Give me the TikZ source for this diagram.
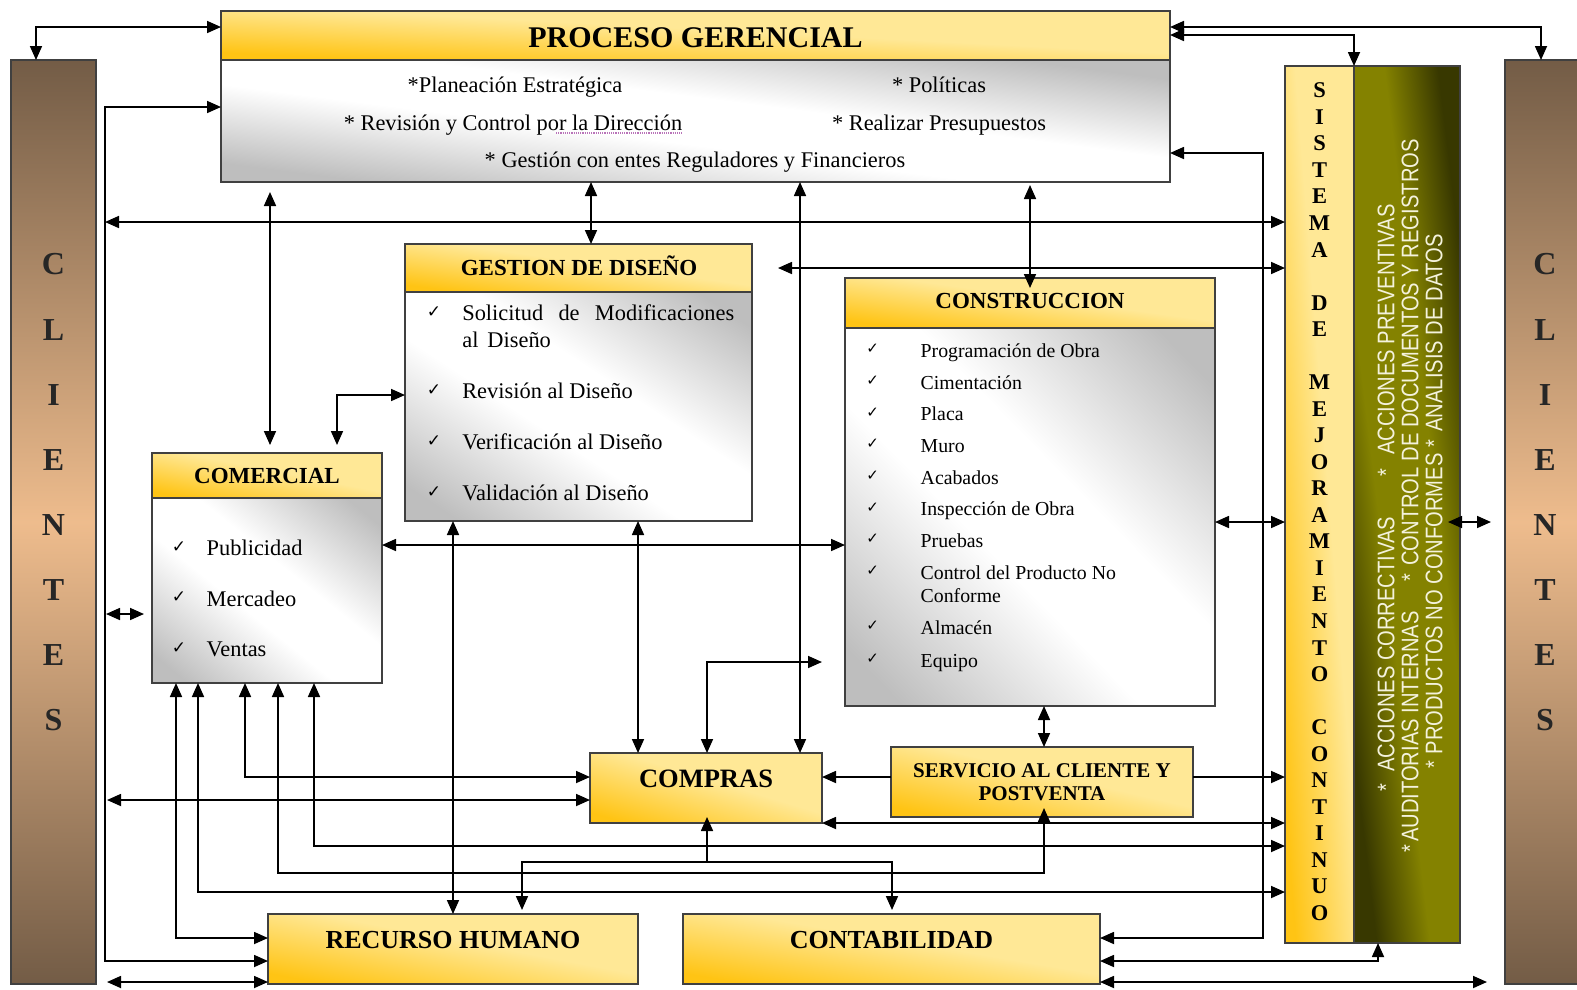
\documentclass[tikz,border=0pt]{standalone}
\usepackage{fontspec}
\setmainfont{Liberation Serif}
\newfontfamily\narrowsans[FakeStretch=0.84]{Liberation Sans}
\newfontfamily\symfont{DejaVu Sans}
\usetikzlibrary{arrows.meta}
\definecolor{goldD}{HTML}{FFC414}
\definecolor{goldL}{HTML}{FFE896}
\definecolor{bgrey}{HTML}{BEBEBE}
\definecolor{brD}{HTML}{735C46}
\definecolor{brL}{HTML}{EEBC8D}
\definecolor{olv}{HTML}{848200}
\definecolor{olvD}{HTML}{383800}
\definecolor{bord}{HTML}{404040}
\definecolor{cream}{HTML}{F4F2DC}
\pgfdeclarehorizontalshading{goldsh}{100bp}{color(0bp)=(goldD); color(20bp)=(goldD); color(55bp)=(goldL); color(100bp)=(goldL)}
\pgfdeclarehorizontalshading{greysh}{100bp}{color(0bp)=(bgrey); color(20bp)=(bgrey); color(43bp)=(white); color(57bp)=(white); color(80bp)=(bgrey); color(100bp)=(bgrey)}
\pgfdeclarehorizontalshading{greensh}{100bp}{color(0bp)=(olvD); color(22bp)=(olvD); color(40bp)=(olv); color(60bp)=(olv); color(78bp)=(olvD); color(100bp)=(olvD)}
\newcommand{\nshade}[5]{%
  \begin{scope}[transform canvas={shift={(#1,#2)}, xscale=#3/100, yscale=#4/100}]
    \shade[shading=#5, shading angle=45] (0,0) rectangle (100,100);
  \end{scope}}
\newcommand{\shbox}[6]{%
  \nshade{#2}{#3}{#4}{#5}{#6}%
  \node[box, minimum width=#4pt, minimum height=#5pt] (#1) at (#2,#3) {};}
\tikzset{
  every node/.style={inner sep=0pt, outer sep=0pt},
  box/.style={draw=bord, line width=1.2pt, anchor=north west},
  cbar/.style={draw=bord, line width=1.2pt, top color=brD, bottom color=brD, middle color=brL, anchor=north west},
  conn/.style={line width=1.7pt},
  hdtxt/.style={anchor=base, font=\fontsize{23}{27}\selectfont\bfseries},
  bigtxt/.style={anchor=base, font=\fontsize{26.5}{30}\selectfont\bfseries},
  itm/.style={anchor=base west, font=\fontsize{22.4}{27}\selectfont},
  pitm/.style={anchor=base, font=\fontsize{22.4}{27}\selectfont},
  citm/.style={anchor=base west, font=\fontsize{19.8}{24}\selectfont},
  chk/.style={anchor=center, font=\symfont\fontsize{17}{20}\selectfont},
  clet/.style={anchor=center, font=\fontsize{32}{36}\selectfont\bfseries, text=black!85},
  slet/.style={anchor=center, font=\fontsize{22.5}{26}\selectfont\bfseries},
  gtxt/.style={anchor=center, rotate=90, text=cream, font=\narrowsans\fontsize{24}{28}\selectfont}
}
\begin{document}
\begin{tikzpicture}[x=1pt, y=-1pt, >={Triangle[length=14pt,width=12pt]}]
\useasboundingbox (0,0) rectangle (1577,989);
\fill[white] (0,0) rectangle (1577,989);

% ---------- boxes ----------
\node[cbar, minimum width=85pt, minimum height=924pt] (cliL) at (11,60) {};
\node[cbar, minimum width=85pt, minimum height=924pt] (cliR) at (1505,60) {};
\shbox{proch}{221}{11}{949}{49}{goldsh}
\shbox{procb}{221}{60}{949}{122}{greysh}
\shbox{dish}{405}{244}{347}{48}{goldsh}
\shbox{disb}{405}{292}{347}{229}{greysh}
\shbox{conh}{845}{278}{370}{50}{goldsh}
\shbox{conb}{845}{328}{370}{378}{greysh}
\shbox{comh}{152}{453}{230}{45}{goldsh}
\shbox{comb}{152}{498}{230}{185}{greysh}
\shbox{compras}{590}{753}{232}{70}{goldsh}
\shbox{serv}{891}{747}{302}{70}{goldsh}
\shbox{rh}{268}{914}{370}{70}{goldsh}
\shbox{cont}{683}{914}{417}{70}{goldsh}
\shbox{sis}{1285}{66}{69}{877}{goldsh}
\shbox{grn}{1354}{66}{106}{877}{greensh}

% ---------- texts ----------
\foreach \l [count=\i from 0] in {C,L,I,E,N,T,E,S} {
  \node[clet] (cl\i) at (53.5,{264.5+65.1*\i}) {\l};
  \node[clet] (cr\i) at (1545,{264.5+65.1*\i}) {\l};
}
\foreach \l [count=\i from 0] in {S,I,S,T,E,M,A,,D,E,,M,E,J,O,R,A,M,I,E,N,T,O,,C,O,N,T,I,N,U,O} {
  \node[slet] (sl\i) at (1319.5,{90.5+26.53*\i}) {\l};
}
\node[gtxt] (g1) at (1386,498) {*\hspace{12pt}ACCIONES CORRECTIVAS\hspace{40pt}*\hspace{14pt}ACCIONES PREVENTIVAS};
\node[gtxt] (g2) at (1410,496) {*\hspace{3pt}AUDITORIAS INTERNAS\hspace{30pt}*\hspace{8pt}CONTROL DE DOCUMENTOS Y REGISTROS};
\node[gtxt] (g3) at (1434,501) {*\hspace{6pt}PRODUCTOS NO CONFORMES\hspace{6pt}*\hspace{8pt}ANALISIS DE DATOS};

\node[anchor=base, font=\fontsize{30}{36}\selectfont\bfseries] (procT) at (695.5,47) {PROCESO GERENCIAL};
\node[pitm] (p1) at (515,92) {*Planeación Estratégica};
\node[pitm] (p2) at (939,92) {* Políticas};
\node[pitm] (p3) at (513,130.5) {* Revisión y Control por la Dirección};
\node[pitm] (p4) at (939,130.5) {* Realizar Presupuestos};
\node[pitm] (p5) at (695,167.5) {* Gestión con entes Reguladores y Financieros};
\draw[violet!55, densely dotted, line width=1.2pt] (556,133) -- (682,133);

\node[hdtxt] (disT) at (579,275.1) {GESTION DE DISEÑO};
\node[chk] (dc1) at (434,312.3) {✓};
\node[chk] (dc2) at (434,390) {✓};
\node[chk] (dc3) at (434,441) {✓};
\node[chk] (dc4) at (434,492) {✓};
\node[itm] (d1) at (462.3,320.7) {\hbox to 272pt{Solicitud\hfill de\hfill Modificaciones}};
\node[itm] (d1b) at (462.3,347) {al\hspace{9pt}Diseño};
\node[itm] (d2) at (462.3,398.3) {Revisión al Diseño};
\node[itm] (d3) at (462.3,449.3) {Verificación al Diseño};
\node[itm] (d4) at (462.3,500.7) {Validación al Diseño};

\node[hdtxt] (conT) at (1030,308.6) {CONSTRUCCION};
\foreach \t/\b [count=\i] in {Programación de Obra/357, Cimentación/389, Placa/420.7, Muro/452, Acabados/484, Inspección de Obra/515.7, Pruebas/547, Control del Producto No/579, Almacén/634, Equipo/667} {
  \node[chk, font=\symfont\fontsize{15}{18}\selectfont] (cc\i) at (872.7,{\b-8}) {✓};
  \node[citm] (ct\i) at (920.7,\b) {\t};
}
\node[citm] (ct8b) at (920.7,602.7) {Conforme};

\node[hdtxt] (comT) at (267,483.6) {COMERCIAL};
\node[chk] (mc1) at (179,546.7) {✓};
\node[chk] (mc2) at (179,597) {✓};
\node[chk] (mc3) at (179,648) {✓};
\node[itm] (m1) at (206.7,555) {Publicidad};
\node[itm] (m2) at (206.7,606) {Mercadeo};
\node[itm] (m3) at (206.7,656.7) {Ventas};

\node[bigtxt] (compT) at (706,787.8) {COMPRAS};
\node[anchor=base, font=\fontsize{21}{24}\selectfont\bfseries] (servT1) at (1042,777) {SERVICIO AL CLIENTE Y};
\node[anchor=base, font=\fontsize{21}{24}\selectfont\bfseries] (servT2) at (1042,800.5) {POSTVENTA};
\node[bigtxt, font=\fontsize{26}{30}\selectfont\bfseries] (rhT) at (453,948.6) {RECURSO HUMANO};
\node[bigtxt, font=\fontsize{26}{30}\selectfont\bfseries] (contT) at (891.5,948.6) {CONTABILIDAD};

% ---------- connectors ----------
\coordinate (vl) at (105,0);
\coordinate (svturn) at (1044,873);
\coordinate (tree) at (707,862);
\begin{scope}[conn]
\draw[<->] (cliL.north -| 36,0) |- (proch.west |- 0,27);
\draw[<->] (cliR.north -| 1541,0) |- (proch.east |- 0,27);
\draw[<->] (sis.north east) |- (proch.east |- 0,35);
\draw[<->] (procb.west |- 0,107) -| (vl |- 0,961) -- (rh.west |- 0,961);
\draw[<->] (vl |- 0,222) -- (sis.west |- 0,222);
\draw[<->, shorten <=2pt] (vl |- 0,800) -- (compras.west |- 0,800);
\draw[<->, shorten <=2pt] (vl |- 0,982) -- (rh.west |- 0,982);
\draw[<->, shorten <=1pt, shorten >=8pt] (vl |- 0,614) -- (comb.west |- 0,614);
\draw[<->, shorten <=10pt, shorten >=8pt] (procb.south -| 270,0) -- (comh.north -| 270,0);
\draw[<->, shorten <=8pt] (comh.north -| 337,0) |- (disb.west |- 0,395);
\draw[<->] (procb.south -| 591,0) -- (dish.north -| 591,0);
\draw[<->, shorten <=26pt] (dish.east |- 0,268) -- (sis.west |- 0,268);
\draw[<->, shorten <=3pt, shorten >=-10pt] (procb.south -| 1030,0) -- (conh.north -| 1030,0);
\draw[<->] (procb.south -| 800,0) -- (compras.north -| 800,0);
\draw[<->] (disb.south -| 638,0) -- (compras.north -| 638,0);
\draw[<->] (disb.south -| 453,0) -- (rh.north -| 453,0);
\draw[<->] (comb.east |- 0,545) -- (conb.west |- 0,545);
\draw[<->, shorten >=23pt] (compras.north -| 707,0) |- (conb.west |- 0,662);
\draw[<->] (conb.south -| 1044,0) -- (serv.north -| 1044,0);
\draw[->] (serv.west |- 0,777) -- (compras.east |- 0,777);
\draw[->] (serv.east |- 0,777) -- (sis.west |- 0,777);
\draw[<->] (compras.east |- 0,823) -- (sis.west |- 0,823);
\draw[<->, shorten >=-9pt] (comb.south -| 278,0) |- (svturn) -- (serv.south -| svturn);
\draw[<->, shorten <=4pt, shorten >=4pt] (rh.north -| 522,0) -- (tree -| 522,0) -- (tree -| 892,0) -- (cont.north -| 892,0);
\draw[->, shorten >=-6pt] (tree) -- (compras.south -| tree);
\draw[<->] (comb.south -| 314,0) |- (sis.west |- 0,846);
\draw[<->] (comb.south -| 198,0) |- (sis.west |- 0,892);
\draw[<->] (comb.south -| 245,0) |- (compras.west |- 0,777);
\draw[<->] (comb.south -| 176,0) |- (rh.west |- 0,938);
\draw[<->] (procb.east |- 0,153) -| (1263,938) -- (cont.east |- 0,938);
\draw[<->] (cont.east |- 0,961) -| (grn.south -| 1378,0);
\draw[<->, shorten >=18pt] (cont.east |- 0,982) -- (cliR.west |- 0,982);
\draw[<->, shorten <=-12pt, shorten >=14pt] (grn.east |- 0,522) -- (cliR.west |- 0,522);
\draw[<->] (conb.east |- 0,522) -- (sis.west |- 0,522);
\end{scope}
\end{tikzpicture}
\end{document}
